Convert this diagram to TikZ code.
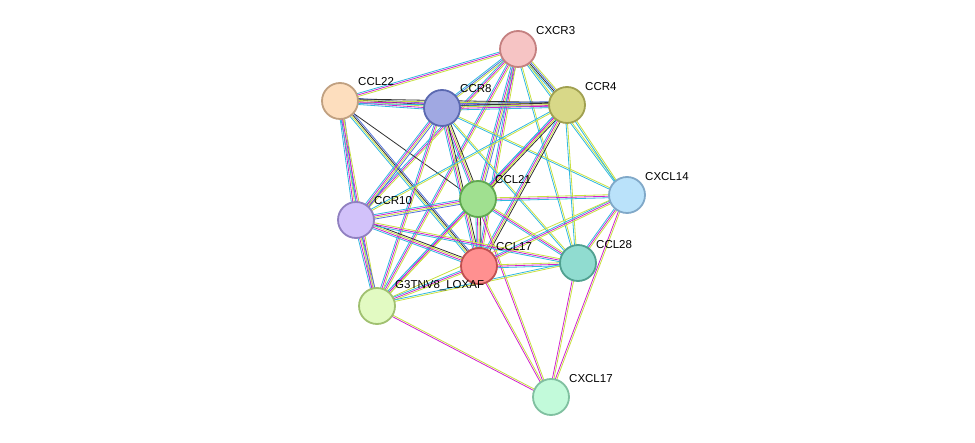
\documentclass[tikz,border=0pt]{standalone}
\usepackage{fontspec}
\setmainfont{Liberation Sans}
\usetikzlibrary{calc}
\definecolor{tm}{HTML}{C8E040}
\definecolor{db}{HTML}{30B8E0}
\definecolor{ex}{HTML}{D020D0}
\definecolor{co}{HTML}{303030}
\definecolor{ho}{HTML}{5070D8}
\tikzset{
  prot/.style={circle,minimum size=36pt,inner sep=0pt,line width=1.8pt},
  lab/.style={font=\fontsize{11.5}{13}\selectfont,anchor=south west,inner sep=1pt},
  ln/.style={line width=0.8pt}
}
\newcommand\edg[3]{\foreach \c [count=\i] in {#3}{%
  \draw[ln,\c] ($(#1)!{(\i-2.5)*1.5pt}!90:(#2)$) -- ($(#2)!{(\i-2.5)*1.5pt}!-90:(#1)$);}}
\begin{document}
\begin{tikzpicture}[x=1pt,y=-1pt]
\useasboundingbox (0,0) rectangle (975,443);
\coordinate (CXCR3) at (518,49);
\coordinate (CCL22) at (340,101);
\coordinate (CCR8) at (442,108);
\coordinate (CCR4) at (567,105);
\coordinate (CCL21) at (478,199);
\coordinate (CXCL14) at (627,195);
\coordinate (CCR10) at (356,220);
\coordinate (CCL17) at (479,266);
\coordinate (CCL28) at (578,263);
\coordinate (G3) at (377,306);
\coordinate (CXCL17) at (551,397);
% edges
\edg{CXCR3}{CCL22}{db,ex,tm}
\edg{CXCR3}{CCR8}{db,ho,tm}
\edg{CXCR3}{CCR4}{db,co,ho,tm}
\edg{CXCR3}{CCL21}{db,ex,tm,ho}
\edg{CXCR3}{CCR10}{db,ex,tm}
\edg{CXCR3}{CCL17}{db,ex,tm}
\edg{CXCR3}{CCL28}{db,tm}
\edg{CXCR3}{CXCL14}{db,tm}
\edg{CXCR3}{G3}{db,ex,tm}
\edg{CCL22}{CCR8}{db,ex,tm,co,ho}
\edg{CCL22}{CCR4}{db,ex,tm,co}
\edg{CCL22}{CCL21}{co}
\edg{CCL22}{CCR10}{db,ex,tm,ho}
\edg{CCL22}{CCL17}{db,tm,co,ho}
\edg{CCL22}{G3}{db,ex,tm}
\edg{CCR8}{CCR4}{db,ex,tm,co,ho}
\edg{CCR8}{CCL21}{db,ex,tm,co}
\edg{CCR8}{CCR10}{db,ex,tm,ho}
\edg{CCR8}{CCL17}{db,ex,tm,co}
\edg{CCR8}{G3}{db,ex,tm}
\edg{CCR8}{CXCL14}{db,tm}
\edg{CCR8}{CCL28}{db,tm}
\edg{CCR4}{CCL21}{db,ex,tm,co}
\edg{CCR4}{CCR10}{db,tm}
\edg{CCR4}{CCL17}{db,ex,tm,co}
\edg{CCR4}{G3}{db,ex,tm}
\edg{CCR4}{CXCL14}{db,tm}
\edg{CCR4}{CCL28}{db,tm}
\edg{CCL21}{CCR10}{db,ex,tm,ho}
\edg{CCL21}{CCL17}{db,ex,tm,co}
\edg{CCL21}{G3}{db,ex,tm}
\edg{CCL21}{CXCL14}{db,ex,tm}
\edg{CCL21}{CCL28}{db,ex,tm}
\edg{CCL21}{CXCL17}{ex,tm}
\edg{CXCL14}{CCL17}{db,ex,tm}
\edg{CXCL14}{G3}{tm}
\edg{CXCL14}{CCL28}{db,ex,tm}
\edg{CXCL14}{CXCL17}{ex,tm}
\edg{CCR10}{CCL17}{db,ex,tm,co}
\edg{CCR10}{G3}{db,ex,tm,ho}
\edg{CCR10}{CCL28}{db,ex,tm}
\edg{CCL17}{G3}{db,ex,tm}
\edg{CCL17}{CCL28}{db,ex,tm}
\edg{CCL17}{CXCL17}{ex,tm}
\edg{CCL28}{G3}{db,tm}
\edg{CCL28}{CXCL17}{ex,tm}
\edg{G3}{CXCL17}{ex,tm}
% nodes
\node[prot,fill={rgb,255:red,246;green,196;blue,196},draw={rgb,255:red,196;green,128;blue,128}] (nCXCR3) at (CXCR3) {};
\node[prot,fill={rgb,255:red,253;green,222;blue,190},draw={rgb,255:red,192;green,160;blue,128}] (nCCL22) at (CCL22) {};
\node[prot,fill={rgb,255:red,160;green,168;blue,226},draw={rgb,255:red,90;green,104;blue,176}] (nCCR8) at (CCR8) {};
\node[prot,fill={rgb,255:red,216;green,216;blue,136},draw={rgb,255:red,160;green,160;blue,80}] (nCCR4) at (CCR4) {};
\node[prot,fill={rgb,255:red,160;green,224;blue,144},draw={rgb,255:red,96;green,168;blue,80}] (nCCL21) at (CCL21) {};
\node[prot,fill={rgb,255:red,186;green,226;blue,250},draw={rgb,255:red,128;green,168;blue,200}] (nCXCL14) at (CXCL14) {};
\node[prot,fill={rgb,255:red,210;green,194;blue,250},draw={rgb,255:red,144;green,128;blue,192}] (nCCR10) at (CCR10) {};
\node[prot,fill={rgb,255:red,255;green,144;blue,144},draw={rgb,255:red,192;green,80;blue,80}] (nCCL17) at (CCL17) {};
\node[prot,fill={rgb,255:red,144;green,220;blue,208},draw={rgb,255:red,80;green,160;blue,144}] (nCCL28) at (CCL28) {};
\node[prot,fill={rgb,255:red,226;green,250;blue,194},draw={rgb,255:red,160;green,192;blue,112}] (nG3) at (G3) {};
\node[prot,fill={rgb,255:red,194;green,250;blue,218},draw={rgb,255:red,128;green,192;blue,160}] (nCXCL17) at (CXCL17) {};
% labels
\node[lab] at (535,36) {CXCR3};
\node[lab] at (357,87) {CCL22};
\node[lab] at (459,94) {CCR8};
\node[lab] at (584,92) {CCR4};
\node[lab] at (494,185) {CCL21};
\node[lab] at (644,182) {CXCL14};
\node[lab] at (373,206) {CCR10};
\node[lab] at (495,252) {CCL17};
\node[lab] at (595,250) {CCL28};
\node[lab] at (394,292) {G3TNV8\_LOXAF};
\node[lab] at (568,384) {CXCL17};
\end{tikzpicture}
\end{document}
